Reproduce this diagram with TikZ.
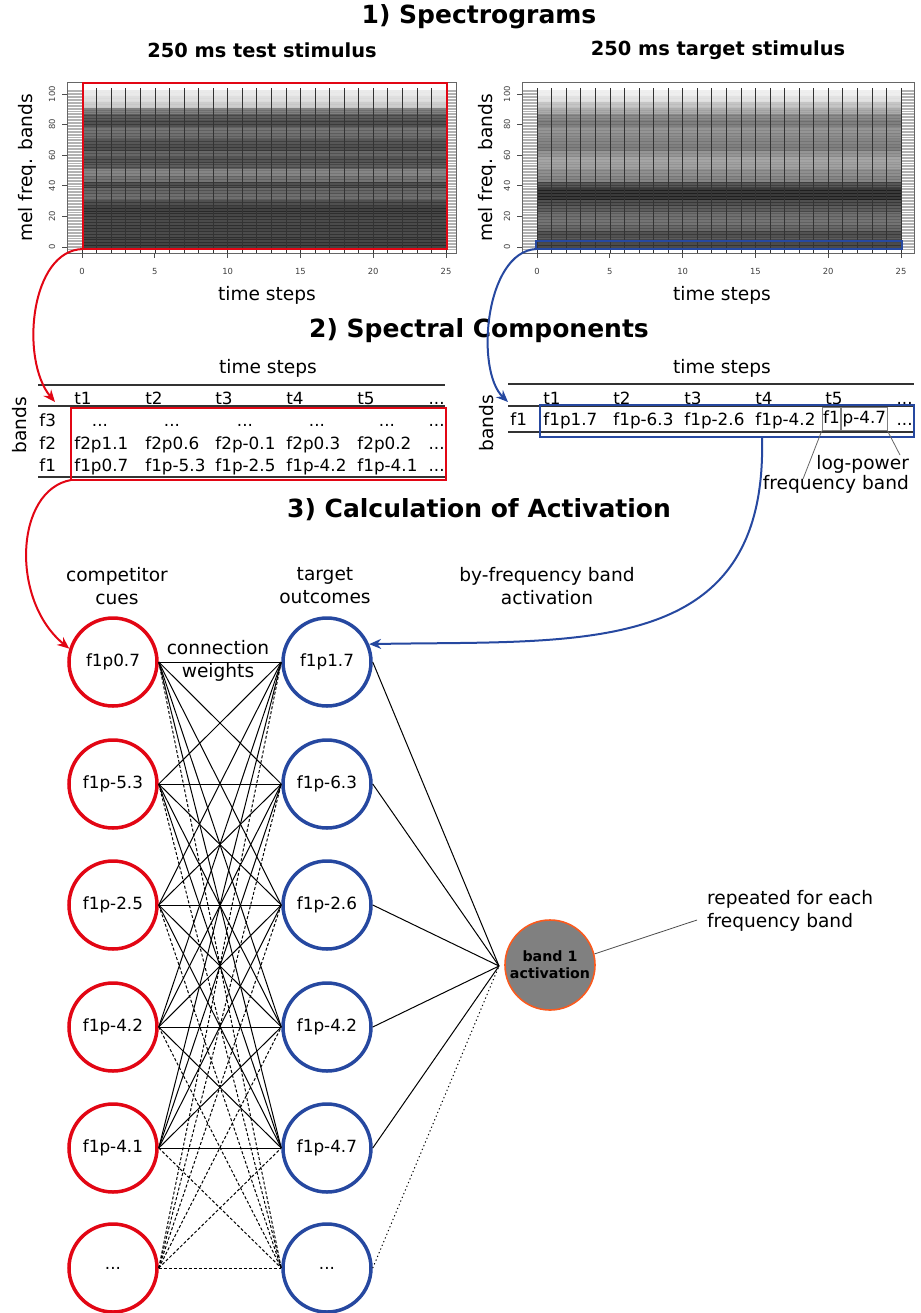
\documentclass[tikz,border=0pt]{standalone}
\usepackage{fontspec}
\setmainfont{DejaVu Sans}
\usepackage{tikz}
\usetikzlibrary{arrows.meta}
\definecolor{cuered}{RGB}{226,6,20}
\definecolor{outblue}{RGB}{38,72,160}
\definecolor{actorange}{RGB}{250,90,30}
\tikzstyle{cue}=[circle,draw=cuered,line width=1.75pt,minimum size=44pt,inner sep=0,font=\fontsize{8.4}{10}\selectfont]
\tikzstyle{outcome}=[circle,draw=outblue,line width=1.75pt,minimum size=44pt,inner sep=0,font=\fontsize{8.4}{10}\selectfont]
\tikzset{act/.style={circle,fill=black!50,draw=actorange,line width=0.8pt,minimum size=45pt,inner sep=0,align=center,font=\bfseries\fontsize{7.1}{8.5}\selectfont}}
\tikzset{title/.style={font=\bfseries\fontsize{12.5}{15}\selectfont}}
\tikzset{subtitle/.style={font=\bfseries\fontsize{9.7}{12}\selectfont}}
\tikzset{lbl/.style={font=\fontsize{9.3}{11.5}\selectfont,align=center}}
\tikzset{cell/.style={font=\fontsize{8.4}{10}\selectfont,anchor=base west,inner sep=0}}
\tikzset{boxcell/.style={draw=black!50,line width=0.4pt,inner xsep=0.5pt,inner ysep=1.5pt,text height=6.5pt,text depth=1.8pt,font=\fontsize{8.4}{10}\selectfont}}
\tikzset{tick/.style={font=\fontsize{4.2}{5}\selectfont,text=black!75,inner sep=0}}
\tikzset{wire/.style={line width=0.5pt}}
\tikzset{dwire/.style={line width=0.5pt,dash pattern=on 1.5pt off 1pt}}
\tikzset{flow/.style={line width=1pt,-{Stealth[length=6pt,width=5pt]}}}

\begin{document}
\begin{tikzpicture}[x=0.5pt,y=-0.5pt]
\useasboundingbox (0,0) rectangle (921,1313);

\node[title] (t1) at (479,17) {1) Spectrograms};
\node[subtitle] (s1) at (262,50) {250 ms test stimulus};
\node[subtitle] (s2) at (718,50) {250 ms target stimulus};

% test spectrogram
\begin{scope}
\foreach \b in {0,...,104}
  \draw[black!30,line width=0.3pt] (67,{249-\b*1.53}) -- (456,{249-\b*1.53});
\foreach \v [count=\i from 0] in {84,82,80,82,80,82,84,78,64,68,78,62,54,72,76,68,78,75,64,62,77,72,56,22,14,9}
  \fill[black!\v] (82,{249-\i*6.12}) rectangle (446,{249-(\i+1)*6.12});
\foreach \b in {0,...,104}
  \draw[white,line width=0.3pt,opacity=0.12] (82,{249-\b*1.53}) -- (446,{249-\b*1.53});
\foreach \k in {0,...,25}
  \draw[black!80,line width=0.3pt] ({82+\k*14.56},88) -- ({82+\k*14.56},253);
\draw[black!60,line width=0.5pt] (67,82) rectangle (456,253);
\foreach \k in {0,5,...,25} {
  \draw[black!70,line width=0.4pt] ({82+\k*14.56},253) -- ({82+\k*14.56},258);
  \node[tick] (lx\k) at ({82+\k*14.56},271) {\k};
}
\foreach \b in {0,20,...,100} {
  \draw[black!70,line width=0.4pt] (67,{247-\b*1.53}) -- (62,{247-\b*1.53});
  \node[tick,rotate=90] (ly\b) at (52,{247-\b*1.53}) {\b};
}
\node[lbl,rotate=90] (lmel) at (27,168) {mel freq. bands};
\node[lbl] (ltime) at (267,295) {time steps};
\draw[cuered,line width=1pt] (83,83) rectangle (447,249);
\coordinate (redcorner) at (83,249);
\end{scope}

% target spectrogram
\begin{scope}[shift={(455,0)}]
\foreach \b in {0,...,104}
  \draw[black!30,line width=0.3pt] (67,{249-\b*1.53}) -- (459,{249-\b*1.53});
\foreach \v [count=\i from 0] in {80,72,77,67,62,64,72,78,88,88,75,54,50,42,40,47,57,54,50,47,57,52,37,26,13,7}
  \fill[black!\v] (82,{249-\i*6.12}) rectangle (446,{249-(\i+1)*6.12});
\foreach \b in {0,...,104}
  \draw[white,line width=0.3pt,opacity=0.12] (82,{249-\b*1.53}) -- (446,{249-\b*1.53});
\foreach \k in {0,...,25}
  \draw[black!80,line width=0.3pt] ({82+\k*14.56},88) -- ({82+\k*14.56},253);
\draw[black!60,line width=0.5pt] (67,82) rectangle (459,253);
\foreach \k in {0,5,...,25} {
  \draw[black!70,line width=0.4pt] ({82+\k*14.56},253) -- ({82+\k*14.56},258);
  \node[tick] (rx\k) at ({82+\k*14.56},271) {\k};
}
\foreach \b in {0,20,...,100} {
  \draw[black!70,line width=0.4pt] (67,{247-\b*1.53}) -- (62,{247-\b*1.53});
  \node[tick,rotate=90] (ry\b) at (52,{247-\b*1.53}) {\b};
}
\node[lbl,rotate=90] (rmel) at (32,168) {mel freq. bands};
\node[lbl] (rtime) at (267,295) {time steps};
\draw[outblue,line width=1pt] (81,241) rectangle (447,249);
\coordinate (bluecorner) at (81,249);
\end{scope}

\node[title] (t2) at (479,331) {2) Spectral Components};

% test table
\node[lbl] (lsteps) at (268,368) {time steps};
\node[lbl,rotate=90] (lbands) at (20,425) {bands};
\draw[line width=0.6pt,black!80] (38,385) -- (445,385);
\draw[line width=0.6pt,black!80] (38,406) -- (445,406);
\draw[line width=0.6pt,black!80] (38,477) -- (445,477);
\node[cell] (lh1) at (74,404) {t1};
\node[cell] (lh2) at (145,404) {t2};
\node[cell] (lh3) at (215,404) {t3};
\node[cell] (lh4) at (286,404) {t4};
\node[cell] (lh5) at (357,404) {t5};
\node[cell,anchor=base east] (lh6) at (445,404) {...};
\node[cell] (lf3) at (39,426) {f3};
\node[cell] (lf2) at (39,449) {f2};
\node[cell] (lf1) at (39,471) {f1};
\node[cell,anchor=base] (a1) at (100,426) {...};
\node[cell,anchor=base] (a2) at (172,426) {...};
\node[cell,anchor=base] (a3) at (245,426) {...};
\node[cell,anchor=base] (a4) at (317,426) {...};
\node[cell,anchor=base] (a5) at (387,426) {...};
\node[cell,anchor=base east] (a6) at (445,426) {...};
\node[cell] (b1) at (74,449) {f2p1.1};
\node[cell] (b2) at (145,449) {f2p0.6};
\node[cell] (b3) at (215,449) {f2p-0.1};
\node[cell] (b4) at (286,449) {f2p0.3};
\node[cell] (b5) at (357,449) {f2p0.2};
\node[cell,anchor=base east] (b6) at (445,449) {...};
\node[cell] (d1) at (74,471) {f1p0.7};
\node[cell] (d2) at (145,471) {f1p-5.3};
\node[cell] (d3) at (215,471) {f1p-2.5};
\node[cell] (d4) at (286,471) {f1p-4.2};
\node[cell] (d5) at (357,471) {f1p-4.1};
\node[cell,anchor=base east] (d6) at (445,471) {...};
\draw[cuered,line width=1pt] (71,408) rectangle (446,480);
\coordinate (redtab) at (71,480);
\coordinate (lefttab) at (55,402);

% target table
\node[lbl] (rsteps) at (722,368) {time steps};
\node[lbl,rotate=90] (rbands) at (487,423) {bands};
\draw[line width=0.6pt,black!80] (508,384) -- (914,384);
\draw[line width=0.6pt,black!80] (508,406) -- (914,406);
\draw[line width=0.6pt,black!80] (508,432) -- (914,432);
\node[cell] (rh1) at (543,404) {t1};
\node[cell] (rh2) at (613,404) {t2};
\node[cell] (rh3) at (684,404) {t3};
\node[cell] (rh4) at (755,404) {t4};
\node[cell] (rh5) at (825,404) {t5};
\node[cell,anchor=base east] (rh6) at (913,404) {...};
\node[cell] (rf1) at (510,425) {f1};
\node[cell] (e1) at (543,425) {f1p1.7};
\node[cell] (e2) at (613,425) {f1p-6.3};
\node[cell] (e3) at (684,425) {f1p-2.6};
\node[cell] (e4) at (755,425) {f1p-4.2};
\node[boxcell] (fb) at (831.5,419) {f1};
\node[boxcell,anchor=west] (lp) at (fb.east) {p-4.7};
\node[cell,anchor=base east] (e6) at (913,425) {...};
\draw[outblue,line width=1pt] (540,405) rectangle (914,437);
\coordinate (bluetab) at (762,437);
\coordinate (righttab) at (508,402);
\node[lbl,align=right,anchor=east] (lpw) at (916,474) {log-power\\[-1.5pt]frequency band};
\coordinate (fbend) at (803,479);
\coordinate (lpend) at (900,455);
\draw[black!60,line width=0.4pt] (fb.south west) -- (fbend);
\draw[black!60,line width=0.4pt] (lp.south east) -- (lpend);

\node[title] (t3) at (479,510) {3) Calculation of Activation};

% network
\node[lbl] (cuelbl) at (117,586) {competitor\\cues};
\node[lbl] (outlbl) at (325,586) {target\\outcomes};
\node[lbl] (actlbl) at (547,586) {by-frequency band\\activation};

\node[cue] (c1) at (113,662) {f1p0.7};
\node[cue] (c2) at (113,784) {f1p-5.3};
\node[cue] (c3) at (113,905) {f1p-2.5};
\node[cue] (c4) at (113,1027) {f1p-4.2};
\node[cue] (c5) at (113,1148) {f1p-4.1};
\node[cue] (c6) at (113,1268) {...};
\node[outcome] (o1) at (327,662) {f1p1.7};
\node[outcome] (o2) at (327,784) {f1p-6.3};
\node[outcome] (o3) at (327,905) {f1p-2.6};
\node[outcome] (o4) at (327,1027) {f1p-4.2};
\node[outcome] (o5) at (327,1148) {f1p-4.7};
\node[outcome] (o6) at (327,1268) {...};
\node[lbl] (cw) at (218,661) {connection\\weights};

\foreach \i in {1,...,5}
  \foreach \j in {1,...,5}
    \draw[wire] (c\i.east) -- (o\j.west);
\foreach \j in {1,...,6}
  \draw[dwire] (c6.east) -- (o\j.west);
\foreach \i in {1,...,5}
  \draw[dwire] (c\i.east) -- (o6.west);

\node[act] (act) at (550,965) {band 1\\activation};
\coordinate (conv) at (499,966);
\foreach \j in {1,...,5}
  \draw[wire] (o\j.east) -- (conv);
\draw[line width=0.5pt,dash pattern=on 0.6pt off 1.4pt] (o6.east) -- (conv);

\node[lbl,align=left,anchor=west] (rep) at (700,911) {repeated for each\\frequency band};
\coordinate (repend) at (697,920);
\draw[black!70,line width=0.4pt] (act.14) -- (repend);

\draw[flow,cuered] (redcorner) .. controls (30,250) and (20,360) .. (lefttab);
\draw[flow,outblue] (bluecorner) .. controls (485,252) and (475,370) .. (righttab);
\draw[flow,cuered] (redtab) .. controls (15,490) and (10,600) .. (c1.163);
\draw[flow,outblue] (bluetab) .. controls (768,660) and (580,640) .. (o1.23);

\end{tikzpicture}
\end{document}
